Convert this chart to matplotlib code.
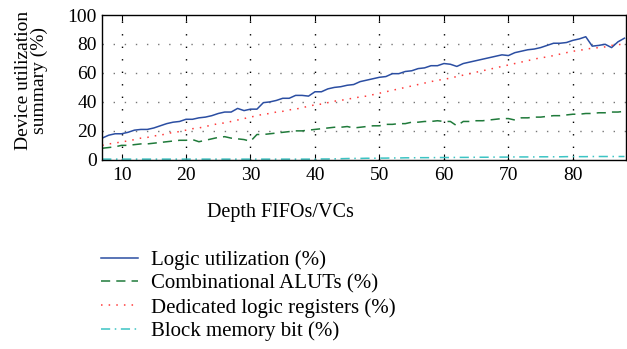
import matplotlib
matplotlib.use("Agg")
import matplotlib.pyplot as plt
import numpy as np

plt.rcParams["font.family"] = ["Liberation Serif", "DejaVu Serif"]

depth = list(range(7, 89))

logic = [15, 17, 18, 18, 19, 20.5, 21, 21, 22, 23.5, 25, 26, 26.5, 28, 28, 29, 29.5, 30.5,
         32, 33, 33, 35.5, 34, 35, 35, 39.5, 40, 41, 42.5, 42.5, 44.5, 44.5, 44, 47, 47, 49,
         50, 50.5, 51.5, 52, 54, 55, 56, 57, 57.5, 59.5, 59.5, 61, 61.5, 63, 63.5, 65, 65,
         66.5, 66, 64.5, 66.5, 67.5, 68.5, 69.5, 70.5, 71.5, 72.5, 72, 74, 75, 76, 76.5, 77.5,
         79, 80.5, 80.5, 81, 82.5, 83.5, 85, 78.5, 79, 79.8, 77.5, 81.5, 84]

aluts = [8, 8.5, 9, 10, 10, 10.5, 11, 11, 11.5, 12, 12.5, 13, 13.5, 13.5, 14, 12.5, 13.5,
         14.5, 15.5, 16, 15, 14.5, 14, 12.8, 17.5, 17.5, 18, 18.5, 19, 19.5, 20, 20, 20.5, 21,
         21.5, 22, 22.5, 22.5, 23, 22, 22.5, 23, 23.5, 23.5, 24.5, 24.5, 25, 25, 26, 26, 26.5,
         26.5, 27, 26.5, 26.5, 23.5, 26.5, 26.5, 27, 27, 27.5, 28, 28.5, 28.5, 27.5, 29, 29,
         29.5, 29.5, 30, 30.5, 30.5, 31, 31.5, 31.5, 32, 32, 32.5, 32.5, 33, 33, 33.5]

registers = [10, 11, 11.5, 12.5, 13, 14, 15, 15.5, 16.5, 17, 18, 19, 19.5, 20.5, 21.5, 22,
             23, 24, 25, 25.5, 26.5, 27.5, 28.5, 29.5, 30.5, 31.5, 32, 33, 33.5, 34.5, 35, 36,
             37, 38, 38.5, 39.5, 40.5, 41, 42, 42.5, 43.5, 44, 45, 46, 47, 48, 49, 50, 51, 52,
             53, 54, 55, 55.5, 56.5, 57.5, 58.5, 59.5, 60.5, 61.5, 62.5, 63.5, 64.5, 65.5, 66.5,
             67.5, 68.5, 69.5, 70.5, 71, 72, 73, 74, 75, 75.5, 76.5, 77, 77.5, 78, 79, 79.5, 80]

block_mem = [0.5, 0.5, 0.5, 0.5, 0.5, 0.5, 0.5, 0.5, 0.5, 0.5, 0.5, 0.5, 0.5, 0.5, 0.5, 0.5,
             0.5, 0.5, 0.5, 0.5, 0.5, 0.5, 0.5, 0.5, 0.5, 0.5, 0.5, 0.5, 0.5, 0.5, 0.5, 0.5,
             0.5, 0.5, 0.6, 0.6, 0.7, 0.8, 0.9, 1.0, 1.0, 1.1, 1.1, 1.2, 1.2, 1.3, 1.3, 1.4,
             1.4, 1.5, 1.5, 1.5, 1.6, 1.6, 1.6, 1.7, 1.7, 1.7, 1.8, 1.8, 1.8, 1.9, 1.9, 1.9,
             2.0, 2.0, 2.0, 2.0, 2.1, 2.1, 2.1, 2.1, 2.2, 2.2, 2.2, 2.2, 2.3, 2.3, 2.3, 2.3,
             2.3, 2.3]

fig = plt.figure(figsize=(6.27, 3.49), dpi=100)
ax = fig.add_axes([0.163, 0.542, 0.835, 0.415])

ax.plot(depth, logic, color="#2b4ea2", lw=1.1, label="Logic utilization (%)")
ax.plot(depth, aluts, color="#1f7a3a", lw=1.1, ls=(0, (6, 4)), label="Combinational ALUTs (%)")
ax.plot(depth, registers, color="#ff3b3b", lw=1.1, ls=(0, (1, 4)), label="Dedicated logic registers (%)")
ax.plot(depth, block_mem, color="#3cc4c4", lw=1.1, ls=(0, (6, 3, 1, 3)), label="Block memory bit (%)")

ax.set_xlim(7, 88.2)
ax.set_ylim(0, 100)
ax.set_xticks([10, 20, 30, 40, 50, 60, 70, 80])
ax.set_yticks([0, 20, 40, 60, 80, 100])
ax.tick_params(axis="x", direction="in", top=True, length=4, labelsize=14, pad=5)
ax.tick_params(axis="y", direction="in", length=0, labelsize=14, pad=4)

for y in [20, 40, 60, 80]:
    ax.axhline(y, color="#777777", lw=1.0, ls=(0, (1, 7)), zorder=0)
for x in [10, 20, 30, 40, 50, 60, 70, 80]:
    ax.axvline(x, color="black", lw=1.0, ls=(0, (1, 8)), zorder=0)

for s in ax.spines.values():
    s.set_linewidth(1.0)

ax.set_xlabel("Depth FIFOs/VCs", fontsize=14.5)
ax.xaxis.set_label_coords(0.34, -0.295)
ax.set_ylabel("Device utilization\nsummary (%)", fontsize=14, linespacing=0.95)
ax.yaxis.set_label_coords(-0.103, 0.55)

fig.legend(loc="upper left", bbox_to_anchor=(0.147, 0.307), frameon=False,
           fontsize=15, handlelength=1.8, handletextpad=0.6, labelspacing=0.2,
           borderaxespad=0)

fig.savefig("out.png", dpi=100)
